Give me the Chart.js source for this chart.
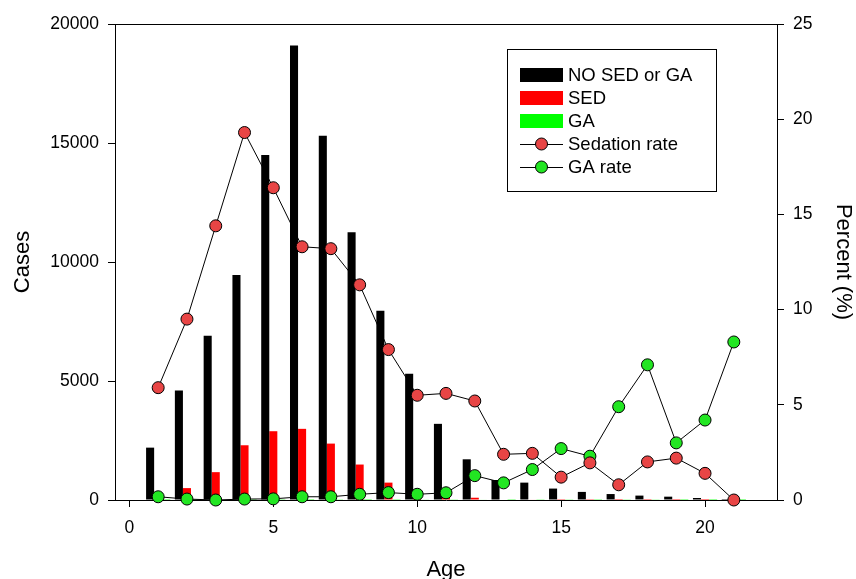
<!DOCTYPE html>
<html>
<head>
<meta charset="utf-8">
<title>Cases and rates by age</title>
<script src="https://cdn.jsdelivr.net/npm/chart.js@4/dist/chart.umd.min.js"></script>
<style>
  body { margin: 0; background: #fff; }
  #wrap { width: 856px; height: 579px; }
</style>
</head>
<body>
<div id="wrap"><canvas id="chart" width="856" height="579"></canvas></div>
<script>
// Values
const ages = [1, 2, 3, 4, 5, 6, 7, 8, 9, 10, 11, 12, 13, 14, 15, 16, 17, 18, 19, 20, 21];
const noSedCases = [2200, 4600, 6900, 9450, 14500, 19100, 15300, 11250, 7950, 5300, 3200, 1710, 840, 730, 480, 340, 250, 185, 140, 85, 40];
const sedCases = [140, 500, 1170, 2300, 2890, 2990, 2370, 1490, 730, 310, 190, 95, 21, 19, 6, 7, 2, 4, 3, 1, 0];
const gaCases = [4, 3, 0, 6, 9, 38, 30, 38, 34, 17, 13, 23, 8, 12, 13, 8, 13, 14, 5, 4, 3];
const sedationRate = [5.9, 9.5, 14.4, 19.3, 16.4, 13.3, 13.2, 11.3, 7.9, 5.5, 5.6, 5.2, 2.4, 2.45, 1.2, 1.95, 0.8, 2.0, 2.2, 1.4, 0];
const gaRate = [0.17, 0.05, 0, 0.05, 0.06, 0.17, 0.17, 0.3, 0.39, 0.3, 0.38, 1.28, 0.9, 1.6, 2.7, 2.3, 4.9, 7.1, 3.0, 4.2, 8.3];

const xTicks = [0, 5, 10, 15, 20];
const casesTicks = [0, 5000, 10000, 15000, 20000];
const percentTicks = [0, 5, 10, 15, 20, 25];

const FONT = "'Liberation Sans', Arial, sans-serif";

function points(values) {
    return ages.map((a, i) => ({ x: a, y: values[i] }));
}

// Top frame line and the boxed legend inside the plot
const framePlugin = {
    id: 'frameAndLegend',
    afterDraw(chart) {
        const ctx = chart.ctx;
        const area = chart.chartArea;
        ctx.save();
        ctx.strokeStyle = '#000';
        ctx.lineWidth = 1;
        ctx.beginPath();
        ctx.moveTo(area.left, Math.round(area.top) + 0.5);
        ctx.lineTo(area.right, Math.round(area.top) + 0.5);
        ctx.stroke();

        // legend
        ctx.strokeRect(507.5, 49.5, 209, 142);
        const rows = [75, 98, 121, 144, 167];
        ctx.font = '18.5px ' + FONT;
        ctx.textBaseline = 'middle';
        ctx.textAlign = 'left';
        chart.data.datasets.forEach((ds, i) => {
            const y = rows[i];
            if (ds.type === 'line') {
                ctx.strokeStyle = '#000';
                ctx.lineWidth = 1;
                ctx.beginPath();
                ctx.moveTo(520, y + 0.5);
                ctx.lineTo(563, y + 0.5);
                ctx.stroke();
                ctx.beginPath();
                ctx.arc(541.5, y, 6, 0, Math.PI * 2);
                ctx.fillStyle = ds.pointBackgroundColor;
                ctx.fill();
                ctx.stroke();
            } else {
                ctx.fillStyle = ds.backgroundColor;
                ctx.fillRect(520, y - 7, 43, 14);
            }
            ctx.fillStyle = '#000';
            ctx.fillText(ds.label, 568, y + 1);
        });
        ctx.restore();
    }
};

const axisGrid = {
    display: true,
    drawOnChartArea: false,
    drawTicks: true,
    tickLength: 7,
    color: '#000',
    lineWidth: 1,
    offset: false
};

const plain = v => String(v);

new Chart(document.getElementById('chart'), {
    data: {
        datasets: [
            { type: 'bar', label: 'NO SED or GA', data: points(noSedCases), backgroundColor: '#000000', yAxisID: 'y', order: 1 },
            { type: 'bar', label: 'SED', data: points(sedCases), backgroundColor: '#ff0000', yAxisID: 'y', order: 1 },
            { type: 'bar', label: 'GA', data: points(gaCases), backgroundColor: '#00ff00', yAxisID: 'y', order: 1 },
            {
                type: 'line', label: 'Sedation rate', data: points(sedationRate), yAxisID: 'y1', order: 0,
                borderColor: '#000', borderWidth: 1, tension: 0,
                pointRadius: 6, pointBackgroundColor: '#e84545', pointBorderColor: '#000', pointBorderWidth: 1,
                clip: false
            },
            {
                type: 'line', label: 'GA rate', data: points(gaRate), yAxisID: 'y1', order: 0,
                borderColor: '#000', borderWidth: 1, tension: 0,
                pointRadius: 6, pointBackgroundColor: '#22e622', pointBorderColor: '#000', pointBorderWidth: 1,
                clip: false
            }
        ]
    },
    options: {
        responsive: false,
        animation: false,
        layout: { padding: { top: 24, left: 0, right: 0, bottom: 0 } },
        datasets: {
            bar: { categoryPercentage: 0.84, barPercentage: 1.0, borderWidth: 0 }
        },
        plugins: {
            legend: { display: false },
            tooltip: { enabled: false }
        },
        scales: {
            x: {
                type: 'linear',
                offset: false,
                min: -0.5,
                max: 22.5,
                afterBuildTicks: s => { s.ticks = xTicks.map(v => ({ value: v })); },
                afterFit: s => { s.height = 79; },
                grid: axisGrid,
                border: { display: true, color: '#000', width: 1 },
                ticks: { color: '#000', font: { family: FONT, size: 17.5 }, padding: 11, maxRotation: 0, callback: plain },
                title: { display: true, text: 'Age', color: '#000', font: { family: FONT, size: 22, lineHeight: 0.8 }, padding: 0 }
            },
            y: {
                position: 'left',
                min: 0,
                max: 20000,
                afterBuildTicks: s => { s.ticks = casesTicks.map(v => ({ value: v })); },
                afterFit: s => { s.width = 115; },
                grid: axisGrid,
                border: { display: true, color: '#000', width: 1 },
                ticks: { color: '#000', font: { family: FONT, size: 17.5 }, padding: 9, callback: plain },
                title: { display: true, text: 'Cases', color: '#000', font: { family: FONT, size: 22 }, padding: { top: 10, bottom: 0 } }
            },
            y1: {
                position: 'right',
                min: 0,
                max: 25,
                afterBuildTicks: s => { s.ticks = percentTicks.map(v => ({ value: v })); },
                afterFit: s => { s.width = 79; },
                grid: axisGrid,
                border: { display: true, color: '#000', width: 1 },
                ticks: { color: '#000', font: { family: FONT, size: 17.5 }, padding: 9, callback: plain },
                title: { display: true, text: 'Percent (%)', color: '#000', font: { family: FONT, size: 22 }, padding: { top: 0, bottom: 0 } }
            }
        }
    },
    plugins: [framePlugin]
});
</script>
</body>
</html>
